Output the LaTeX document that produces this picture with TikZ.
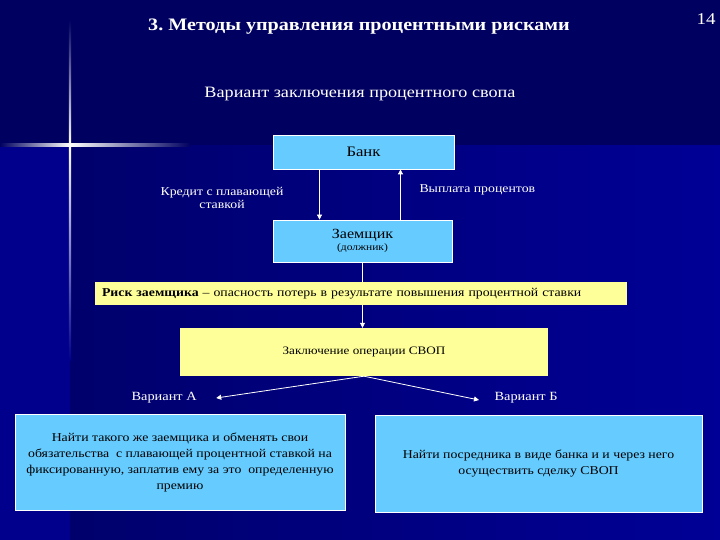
\documentclass[tikz,border=0pt]{standalone}
\usepackage{fontspec}
\setmainfont[FakeStretch=1.15]{Liberation Serif}
\usetikzlibrary{arrows.meta}
\definecolor{bgtop}{RGB}{0,0,96}
\definecolor{bgleft}{RGB}{0,0,140}
\definecolor{bgmid}{RGB}{0,0,108}
\definecolor{bgright}{RGB}{0,0,150}
\definecolor{boxblue}{RGB}{102,204,255}
\definecolor{boxyellow}{RGB}{255,255,153}
\definecolor{flare}{RGB}{40,100,255}
\frenchspacing

\begin{document}
\begin{tikzpicture}[x=1pt,y=-1pt,
    every node/.style={font=\fontsize{12}{13}\selectfont},
    bluebox/.style={draw=white,line width=0.8pt,fill=boxblue,inner sep=0pt,align=center},
    yellowbox/.style={fill=boxyellow,inner sep=0pt},
    lbl/.style={text=white,align=center},
    arr/.style={white,line width=0.8pt,-{Triangle[length=5pt,width=5pt]}}]
    \useasboundingbox (0,0) rectangle (720,540);
    \fill[bgright] (0,0) rectangle (720,540);
    \shade[left color=bgmid,right color=bgright] (70,145) rectangle (720,540);
    \fill[bgleft] (0,145) rectangle (70,540);
    \fill[bgtop] (0,0) rectangle (720,145);
    \shade[left color=bgtop,middle color=flare,right color=white] (0,143.8) rectangle (70,146.2);
    \shade[left color=white,middle color=flare,right color=bgtop] (70,143.8) rectangle (190,146.2);
    \shade[top color=bgtop,middle color=flare,bottom color=white] (68.8,20) rectangle (71.2,145);
    \shade[top color=white,middle color=flare,bottom color=bgleft] (68.8,145) rectangle (71.2,360);

    \node[text=white,font=\bfseries\fontsize{17.5}{20}\selectfont] (title) at (359,27) {3. Методы управления процентными рисками};
    \node[text=white,font=\fontsize{16.5}{20}\selectfont] (page) at (706,19) {14};
    \node[text=white,font=\fontsize{15.8}{18}\selectfont] (sub) at (360,94) {Вариант заключения процентного свопа};

    \node[bluebox,minimum width=181pt,minimum height=34pt,font=\fontsize{14.5}{16}\selectfont] (bank) at (363.5,152) {Банк};
    \node[bluebox,minimum width=179pt,minimum height=42pt] (zaem) at (362.5,241)
        {{\fontsize{14}{15}\selectfont Заемщик}\\[-1pt]{\fontsize{10}{11}\selectfont (должник)}};
    \draw[arr] ([xshift=-44pt]bank.south) -- ([xshift=-44pt]bank.south |- zaem.north);
    \draw[arr] ([xshift=38pt]zaem.north) -- ([xshift=38pt]zaem.north |- bank.south);
    \node[lbl,font=\fontsize{12}{12.5}\selectfont] (credit) at (222,198) {Кредит с плавающей\\ставкой};
    \node[lbl,anchor=west] (pay) at (416,190) {Выплата процентов};

    \node[yellowbox,minimum width=532pt,minimum height=23pt,text width=518pt,align=left] (risk) at (361,293.5)
        {\textbf{Риск заемщика} – опасность потерь в результате повышения процентной ставки};
    \draw[white,line width=0.8pt] (zaem.south) -- (zaem.south |- risk.north);
    \node[yellowbox,minimum width=368pt,minimum height=48pt,font=\fontsize{11.4}{13}\selectfont] (swop) at (364,352) {Заключение операции СВОП};
    \draw[arr] (risk.south -| zaem.south) -- (swop.north -| zaem.south);

    \node[lbl,anchor=west,font=\fontsize{12.5}{14}\selectfont] (varA) at (128,398) {Вариант А};
    \node[lbl,anchor=west,font=\fontsize{12.5}{14}\selectfont] (varB) at (491,398) {Вариант Б};
    \draw[arr] (swop.south) -- ([xshift=16pt]varA.east);
    \draw[arr] (swop.south) -- ([xshift=-12pt,yshift=-2pt]varB.west);

    \node[bluebox,minimum width=330pt,minimum height=96pt,font=\fontsize{12}{16}\selectfont] (boxA) at (180,462)
        {Найти такого же заемщика и обменять свои\\обязательства \ с плавающей процентной ставкой на\\фиксированную, заплатив ему за это \ определенную\\премию};
    \node[bluebox,minimum width=327pt,minimum height=97pt,font=\fontsize{12}{16}\selectfont] (boxB) at (538.5,463.5)
        {Найти посредника в виде банка и и через него\\осуществить сделку СВОП};
\end{tikzpicture}
\end{document}
